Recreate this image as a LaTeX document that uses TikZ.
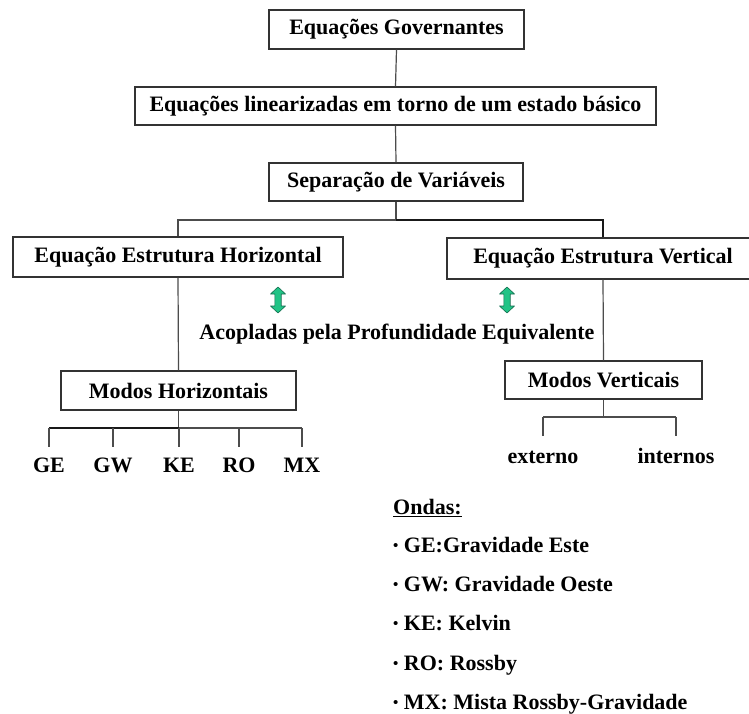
\documentclass[tikz,border=0pt]{standalone}
\usepackage{fontspec}
\setmainfont{Liberation Serif}
\newcommand{\smbul}{{\fontsize{15}{15}\selectfont\raisebox{1.5pt}{•}}}
\begin{document}
\begin{tikzpicture}[x=1pt,y=-1pt,
  every node/.style={font=\bfseries\fontsize{22}{26}\selectfont, inner sep=0pt},
  box/.style={draw=black!80, line width=1.3pt, fill=white, rectangle},
  link/.style={draw=black!70, line width=1.2pt},
  linkdark/.style={draw=black!90, line width=1.7pt},
  lbl/.style={anchor=base},
  leg/.style={anchor=base west},
  garrow/.style={fill={rgb,255:red,34;green,196;blue,134}, draw={rgb,255:red,20;green,110;blue,80}, line width=0.6pt, line join=round}
]
\useasboundingbox (0,0) rectangle (749,714);
\fill[white] (0,0) rectangle (749,714);

% boxes
\node[box, minimum width=255pt, minimum height=39pt] (b1) at (396.5,29.5) {Equações Governantes};
\node[box, minimum width=521pt, minimum height=38pt] (b2) at (395.5,106) {Equações linearizadas em torno de um estado básico};
\node[box, minimum width=254pt, minimum height=38pt] (b3) at (396,182) {Separação de Variáveis};
\node[box, minimum width=330pt, minimum height=40pt] (b4) at (178,257) {Equação Estrutura Horizontal};
\node[box, minimum width=312pt, minimum height=41pt] (b5) at (603,258.5) {Equação Estrutura Vertical};
\node[box, minimum width=235pt, minimum height=39pt] (mh) at (178.5,390.5) {Modos Horizontais};
\node[box, minimum width=197pt, minimum height=38pt] (mv) at (603.5,380) {Modos Verticais};

% coupling text
\node[lbl] (acop) at (397,339) {Acopladas pela Profundidade Equivalente};

% horizontal mode labels
\node[lbl] (ge) at (49,472) {GE};
\node[lbl] (gw) at (113,472) {GW};
\node[lbl] (ke) at (179,472) {KE};
\node[lbl] (ro) at (239,472) {RO};
\node[lbl] (mx) at (302,472) {MX};
% vertical mode labels
\node[lbl] (ext) at (543,463) {externo};
\node[lbl] (int) at (676,463) {internos};

% connectors
\draw[link] (b1.south) -- (b2.north);
\draw[link] (b2.south) -- (b3.north);
\coordinate (jun) at (396,220);
\draw[link] (b3.south) -- (jun) -| (b4.north);
\draw[linkdark] (jun) -| (b5.north);
\draw[link] (b4.south) -- (mh.north);
\draw[link] (b5.south) -- (mv.north);

% horizontal modes tree
\coordinate (barH) at (178.5,428);
\coordinate (leafH) at (0,447);
\draw[link] (mh.south) -- (barH);
\draw[linkdark] (barH -| ge) -- (barH);
\draw[link] (barH) -- (barH -| mx);
\foreach \n in {ge,gw,ke,ro,mx}{
  \draw[link] (barH -| \n) -- (leafH -| \n);
}

% vertical modes tree
\coordinate (barV) at (603.5,417);
\coordinate (leafV) at (0,436);
\draw[link] (mv.south) -- (barV);
\draw[link] (barV -| ext) -- (barV -| int);
\foreach \n in {ext,int}{
  \draw[link] (barV -| \n) -- (leafV -| \n);
}

% green double arrows
\foreach \cx in {278,507}{
  \draw[garrow] (\cx,287) -- (\cx+7.5,294) -- (\cx+3.2,294) -- (\cx+3.2,306) -- (\cx+7.5,306)
    -- (\cx,313) -- (\cx-7.5,306) -- (\cx-3.2,306) -- (\cx-3.2,294) -- (\cx-7.5,294) -- cycle;
}

% legend
\node[leg] (ondas) at (393,514) {\underline{Ondas:}};
\node[leg] (l1) at (393,552) {\smbul{} GE:Gravidade Este};
\node[leg] (l2) at (393,591) {\smbul{} GW: Gravidade Oeste};
\node[leg] (l3) at (393,630) {\smbul{} KE: Kelvin};
\node[leg] (l4) at (393,670) {\smbul{} RO: Rossby};
\node[leg] (l5) at (393,709) {\smbul{} MX: Mista Rossby-Gravidade};
\end{tikzpicture}
\end{document}
